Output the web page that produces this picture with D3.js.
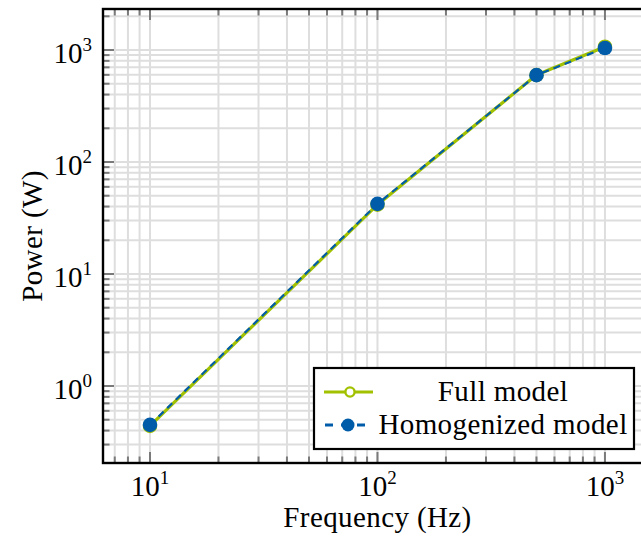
<!DOCTYPE html>
<html>
<head>
<meta charset="utf-8">
<script src="https://cdn.jsdelivr.net/npm/d3@7"></script>
<style>
html,body{margin:0;padding:0;background:#fff;overflow:hidden;}
svg{display:block;}
text{font-family:"Liberation Serif","Times New Roman",serif;fill:#000;}
</style>
</head>
<body>
<svg id="chart" width="641" height="546"></svg>
<script>
// ---- data ----
const frequency = [10, 100, 500, 1000];
const fullModel = [0.44, 41.6, 598, 1070];
const homogenizedModel = [0.45, 42.3, 596, 1042];
const xTickValues = [10, 100, 1000];
const xTickExponents = ["1", "2", "3"];
const yTickValues = [1, 10, 100, 1000];
const yTickExponents = ["0", "1", "2", "3"];
const seriesNames = ["Full model", "Homogenized model"];

const green = "#a2c100";
const blue = "#005ca9";

const svg = d3.select("#chart");
const L = 103, T = 9, R = 652, B = 463;

const x = d3.scaleLog().domain([6.215, 1610]).range([L, R]);
const y = d3.scaleLog().domain([0.2054, 2323]).range([B, T]);

const xAll = x.ticks(10).filter(v => v >= x.domain()[0] && v <= x.domain()[1]);
const yAll = y.ticks(10).filter(v => v >= y.domain()[0] && v <= y.domain()[1]);
const isMajor = v => Math.abs(Math.log10(v) - Math.round(Math.log10(v))) < 1e-9;

// grid
const grid = svg.append("g").attr("stroke", "#dedede").attr("stroke-width", 2);
grid.selectAll(".gx").data(xAll).join("line")
  .attr("x1", d => x(d)).attr("x2", d => x(d)).attr("y1", T).attr("y2", B);
grid.selectAll(".gy").data(yAll).join("line")
  .attr("y1", d => y(d)).attr("y2", d => y(d)).attr("x1", L).attr("x2", R);

// ticks (inside, all four sides)
const ticks = svg.append("g").attr("stroke", "#7a7a7a").attr("stroke-width", 2);
xAll.forEach(v => {
  const len = isMajor(v) ? 11 : 6.5;
  ticks.append("line").attr("x1", x(v)).attr("x2", x(v)).attr("y1", B).attr("y2", B - len);
  ticks.append("line").attr("x1", x(v)).attr("x2", x(v)).attr("y1", T).attr("y2", T + len);
});
yAll.forEach(v => {
  const len = isMajor(v) ? 11 : 6.5;
  ticks.append("line").attr("y1", y(v)).attr("y2", y(v)).attr("x1", L).attr("x2", L + len);
  ticks.append("line").attr("y1", y(v)).attr("y2", y(v)).attr("x1", R).attr("x2", R - len);
});

// lines
const line = d3.line().x(d => x(d[0])).y(d => y(d[1]));
const fullPts = frequency.map((f, i) => [f, fullModel[i]]);
const homPts = frequency.map((f, i) => [f, homogenizedModel[i]]);

svg.append("path").datum(fullPts).attr("d", line)
  .attr("fill", "none").attr("stroke", green).attr("stroke-width", 3.2);
svg.selectAll(".fm").data(fullPts).join("circle")
  .attr("cx", d => x(d[0])).attr("cy", d => y(d[1])).attr("r", 6)
  .attr("fill", "#fff").attr("stroke", green).attr("stroke-width", 2.5);

svg.append("path").datum(homPts).attr("d", line)
  .attr("fill", "none").attr("stroke", blue).attr("stroke-width", 2.2)
  .attr("stroke-dasharray", "7,5");
svg.selectAll(".hm").data(homPts).join("circle")
  .attr("cx", d => x(d[0])).attr("cy", d => y(d[1])).attr("r", 7.3)
  .attr("fill", blue);

// frame
svg.append("rect").attr("x", L).attr("y", T).attr("width", R - L).attr("height", B - T)
  .attr("fill", "none").attr("stroke", "#000").attr("stroke-width", 2.4);

// tick labels
xTickValues.forEach((v, i) => {
  const t = svg.append("text").attr("x", x(v)).attr("y", 496)
    .attr("text-anchor", "middle").attr("font-size", 29);
  t.append("tspan").text("10");
  t.append("tspan").attr("dy", -12).attr("font-size", 19).text(xTickExponents[i]);
});
yTickValues.forEach((v, i) => {
  const t = svg.append("text").attr("x", 92).attr("y", y(v) + 13)
    .attr("text-anchor", "end").attr("font-size", 29);
  t.append("tspan").text("10");
  t.append("tspan").attr("dy", -12).attr("font-size", 19).text(yTickExponents[i]);
});

// axis labels
svg.append("text").attr("x", (L + R) / 2).attr("y", 527)
  .attr("text-anchor", "middle").attr("font-size", 29).attr("letter-spacing", 0.4)
  .text("Frequency (Hz)");
svg.append("text").attr("transform", `translate(42,${(T + B) / 2}) rotate(-90)`)
  .attr("text-anchor", "middle").attr("font-size", 29).attr("letter-spacing", 0.4)
  .text("Power (W)");

// legend
const lg = svg.append("g");
lg.append("rect").attr("x", 314).attr("y", 368).attr("width", 320).attr("height", 81)
  .attr("fill", "#fff").attr("stroke", "#000").attr("stroke-width", 2.2);
const ly = [392, 425];
lg.append("line").attr("x1", 324).attr("x2", 373).attr("y1", ly[0]).attr("y2", ly[0])
  .attr("stroke", green).attr("stroke-width", 3);
lg.append("circle").attr("cx", 350).attr("cy", ly[0]).attr("r", 4.6)
  .attr("fill", "#fff").attr("stroke", green).attr("stroke-width", 2.4);
lg.append("line").attr("x1", 325).attr("x2", 373).attr("y1", ly[1]).attr("y2", ly[1])
  .attr("stroke", blue).attr("stroke-width", 3).attr("stroke-dasharray", "8,8");
lg.append("circle").attr("cx", 348).attr("cy", ly[1]).attr("r", 6.5).attr("fill", blue);
seriesNames.forEach((n, i) => {
  lg.append("text").attr("x", 503).attr("y", ly[i] + 9).attr("text-anchor", "middle")
    .attr("font-size", 29).attr("letter-spacing", 0.4).text(n);
});
</script>
</body>
</html>
